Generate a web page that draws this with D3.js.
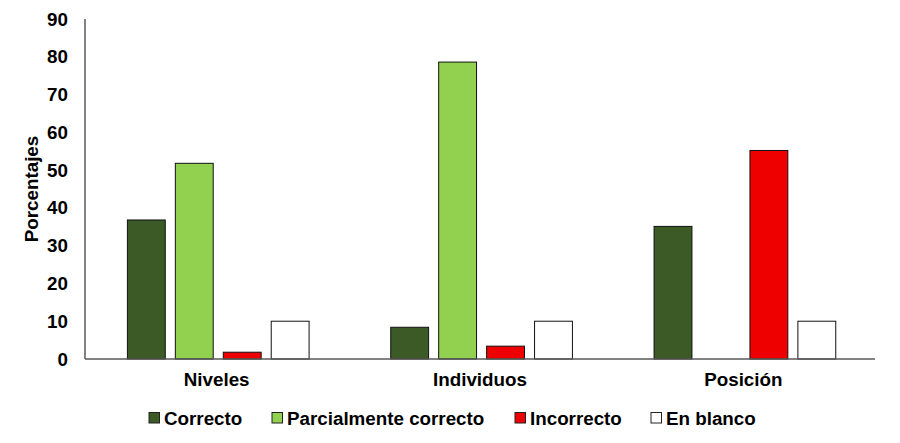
<!DOCTYPE html>
<html>
<head>
<meta charset="utf-8">
<script src="https://cdn.jsdelivr.net/npm/d3@7"></script>
<style>
  body { margin: 0; background: #fff; }
  svg text { font-family: "Liberation Sans", Arial, sans-serif; font-weight: bold; fill: #000; }
</style>
</head>
<body>
<svg id="chart" width="900" height="443"></svg>
<script>
const categories = ['Niveles', 'Individuos', 'Posición'];
const series = ['Correcto', 'Parcialmente correcto', 'Incorrecto', 'En blanco'];
const correcto = [36.8, 8.4, 35.1];
const parcial = [51.8, 78.6, 0];
const incorrecto = [1.8, 3.4, 55.2];
const enBlanco = [10, 10, 10];
const yTicks = [0, 10, 20, 30, 40, 50, 60, 70, 80, 90];
const colors = ['#3b5a25', '#92d050', '#ee0000', '#ffffff'];

const values = [correcto, parcial, incorrecto, enBlanco];
const rows = categories.map((c, i) => ({cat: c, vals: series.map((s, j) => ({s: s, v: values[j][i]}))}));

const svg = d3.select('#chart');
const mLeft = 85, mRight = 875, mTop = 19, mBottom = 359;

const x0 = d3.scaleBand().domain(categories).range([mLeft, mRight]);
const bw = x0.bandwidth();
const x1 = d3.scaleBand().domain(series).range([bw * 0.161, bw * 0.851]).paddingInner(0.21);
const y = d3.scaleLinear().domain([0, 90]).range([mBottom, mTop]);
const color = d3.scaleOrdinal().domain(series).range(colors);

// y axis labels
svg.append('g')
    .attr('transform', `translate(${mLeft},0)`)
    .call(d3.axisLeft(y).tickValues(yTicks).tickSize(0).tickPadding(17))
    .call(g => g.select('.domain').remove())
    .selectAll('text')
    .style('font-size', '18.8px');

svg.append('text')
    .attr('transform', `translate(38,${(mTop + mBottom) / 2}) rotate(-90)`)
    .attr('text-anchor', 'middle')
    .style('font-size', '18.8px')
    .text('Porcentajes');

// bars
svg.append('g').selectAll('g')
    .data(rows)
    .join('g')
    .attr('transform', d => `translate(${x0(d.cat)},0)`)
    .selectAll('rect')
    .data(d => d.vals.filter(e => e.v > 0))
    .join('rect')
    .attr('x', d => x1(d.s))
    .attr('y', d => y(d.v))
    .attr('width', x1.bandwidth())
    .attr('height', d => y(0) - y(d.v))
    .style('fill', d => color(d.s))
    .style('stroke', '#111')
    .style('stroke-width', 1);

// axis lines
svg.append('line')
    .attr('x1', mLeft).attr('x2', mLeft).attr('y1', mTop).attr('y2', mBottom)
    .style('stroke', '#595959').style('stroke-width', 1.5);
svg.append('line')
    .attr('x1', mLeft).attr('x2', mRight).attr('y1', mBottom).attr('y2', mBottom)
    .style('stroke', '#595959').style('stroke-width', 1.5);

// category labels
svg.append('g')
    .attr('transform', `translate(0,${mBottom})`)
    .call(d3.axisBottom(x0).tickSize(0).tickPadding(14))
    .call(g => g.select('.domain').remove())
    .selectAll('text')
    .style('font-size', '18.8px');

// legend
const legendX = [149, 272, 515, 651];
const legend = svg.append('g').selectAll('g')
    .data(series)
    .join('g')
    .attr('transform', (d, i) => `translate(${legendX[i]},418)`);
legend.append('rect')
    .attr('x', 0).attr('y', -5.5)
    .attr('width', 10.5).attr('height', 10.5)
    .style('fill', d => color(d))
    .style('stroke', '#222')
    .style('stroke-width', 1);
legend.append('text')
    .attr('x', 15)
    .attr('dy', '0.35em')
    .style('font-size', '18.8px')
    .text(d => d);
</script>
</body>
</html>
